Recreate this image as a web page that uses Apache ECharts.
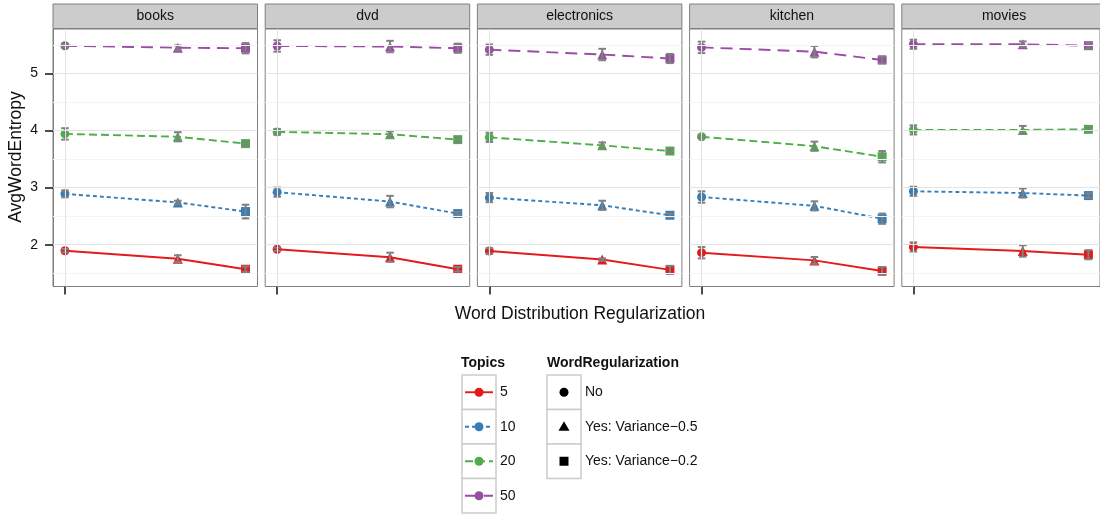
<!DOCTYPE html>
<html><head><meta charset="utf-8">
<script src="https://cdn.jsdelivr.net/npm/echarts@6/dist/echarts.min.js"></script>
<style>html,body{margin:0;padding:0;background:#fff}#c{width:1100px;height:514px}</style>
</head><body><div id="c"></div><script>
// ---- data ----
const panels = ['books', 'dvd', 'electronics', 'kitchen', 'movies'];
const topics = ['5', '10', '20', '50'];
const regLabels = ['No', 'Yes: Variance\u22120.5', 'Yes: Variance\u22120.2'];
const regX = [0, 0.5, 0.8];
const yTicks = [2, 3, 4, 5];
const yMinor = [1.5, 2.5, 3.5, 4.5, 5.5];
const xTicks = [0];

const booksMean = [[1.895, 1.755, 1.57], [2.89, 2.74, 2.58], [3.94, 3.89, 3.77], [5.484, 5.449, 5.44]];
const booksErr = [[0.03, 0.06, 0.05], [0.06, 0.03, 0.12], [0.1, 0.08, 0.03], [0.03, 0.04, 0.09]];
const dvdMean = [[1.92, 1.78, 1.57], [2.92, 2.755, 2.545], [3.975, 3.935, 3.84], [5.48, 5.47, 5.44]];
const dvdErr = [[0.03, 0.08, 0.04], [0.08, 0.1, 0.03], [0.05, 0.05, 0.04], [0.1, 0.1, 0.08]];
const electronicsMean = [[1.89, 1.74, 1.56], [2.825, 2.69, 2.515], [3.88, 3.74, 3.64], [5.415, 5.33, 5.26]];
const electronicsErr = [[0.05, 0.02, 0.07], [0.08, 0.08, 0.03], [0.08, 0.05, 0.03], [0.09, 0.1, 0.08]];
const kitchenMean = [[1.86, 1.725, 1.54], [2.835, 2.68, 2.455], [3.89, 3.725, 3.54], [5.455, 5.38, 5.235]];
const kitchenErr = [[0.1, 0.06, 0.07], [0.1, 0.08, 0.09], [0.02, 0.08, 0.1], [0.1, 0.1, 0.06]];
const moviesMean = [[1.96, 1.89, 1.825], [2.935, 2.905, 2.86], [4.01, 4.01, 4.02], [5.51, 5.51, 5.485]];
const moviesErr = [[0.08, 0.1, 0.08], [0.08, 0.08, 0.04], [0.08, 0.07, 0.03], [0.08, 0.05, 0.05]];

const panelMeans = [booksMean, dvdMean, electronicsMean, kitchenMean, moviesMean];
const panelErrs = [booksErr, dvdErr, electronicsErr, kitchenErr, moviesErr];

// ---- style ----
const FONT = '"Liberation Sans", Arial, Helvetica, sans-serif';
const colors = ['#E41A1C', '#377EB8', '#4DAF4A', '#984EA3'];
const dashes = ['solid', [4, 3], [8, 4], [12, 7]];
const symbols = ['circle', 'triangle', 'rect'];
const symSizes = [9, 10, 9];
const errColor = '#808080';

const P_LEFT = 53, P_STEP = 212.2, P_W = 204.5, P_TOP = 29, P_H = 257.5;
const Y_MIN = 1.268, Y_MAX = 5.777;
const X_MIN = -0.053, X_MAX = 0.853;

const grids = [], xAxes = [], yAxes = [], series = [], graphics = [];

panels.forEach((name, p) => {
  const left = P_LEFT + p * P_STEP;
  grids.push({ left: left, top: P_TOP, width: P_W, height: P_H, show: true,
    borderColor: '#7f7f7f', borderWidth: 1, backgroundColor: '#fff', containLabel: false });
  xAxes.push({ type: 'value', gridIndex: p, min: X_MIN, max: X_MAX, position: 'bottom',
    axisLine: { show: false, onZero: false },
    axisTick: { show: true, customValues: xTicks, length: 8, inside: false, lineStyle: { color: '#111', width: 1.5 } },
    axisLabel: { show: false }, splitLine: { show: false } });
  yAxes.push({ type: 'value', gridIndex: p, min: Y_MIN, max: Y_MAX, position: 'left',
    axisLine: { show: p === 0, onZero: false, lineStyle: { color: '#7f7f7f', width: 1 } },
    axisTick: { show: p === 0, customValues: yTicks, length: 8, inside: false, lineStyle: { color: '#111', width: 1.5 } },
    axisLabel: { show: p === 0, customValues: yTicks, margin: 15, color: '#111', fontSize: 14, fontFamily: FONT },
    splitLine: { show: false } });

  // gridlines (minor, major, vertical)
  series.push({ type: 'line', xAxisIndex: p, yAxisIndex: p, data: [], z: 0, silent: true,
    markLine: { silent: true, symbol: 'none', animation: false, label: { show: false },
      data: yMinor.map(v => ({ yAxis: v, lineStyle: { color: '#f4f4f4', width: 1, type: 'solid' } }))
        .concat(yTicks.map(v => ({ yAxis: v, lineStyle: { color: '#e3e3e3', width: 1, type: 'solid' } })))
        .concat(xTicks.map(v => ({ xAxis: v, lineStyle: { color: '#e3e3e3', width: 1, type: 'solid' } })))
    } });

  topics.forEach((t, k) => {
    const m = panelMeans[p][k];
    const e = panelErrs[p][k];
    series.push({ type: 'line', name: t, xAxisIndex: p, yAxisIndex: p, z: 2,
      lineStyle: { color: colors[k], width: 1.9, type: dashes[k] },
      itemStyle: { color: colors[k] },
      showSymbol: true, symbolKeepAspect: true,
      data: m.map((v, i) => ({ value: [regX[i], v], symbol: symbols[i], symbolSize: symSizes[i] })) });
    series.push({ type: 'custom', xAxisIndex: p, yAxisIndex: p, z: 3, silent: true,
      data: m.map((v, i) => [regX[i], v - e[i], v + e[i]]),
      renderItem: function (params, api) {
        const lo = api.coord([api.value(0), api.value(1)]);
        const hi = api.coord([api.value(0), api.value(2)]);
        const w = 3.8;
        const st = { stroke: errColor, lineWidth: 2 };
        return { type: 'group', children: [
          { type: 'line', shape: { x1: lo[0], y1: lo[1], x2: hi[0], y2: hi[1] }, style: st },
          { type: 'line', shape: { x1: lo[0] - w, y1: lo[1], x2: lo[0] + w, y2: lo[1] }, style: st },
          { type: 'line', shape: { x1: hi[0] - w, y1: hi[1], x2: hi[0] + w, y2: hi[1] }, style: st }
        ] };
      } });
  });

  // strip
  graphics.push({ type: 'rect', shape: { x: left, y: 4, width: P_W, height: 24.5 },
    style: { fill: '#cccccc', stroke: '#7f7f7f', lineWidth: 1 }, z: 10 });
  graphics.push({ type: 'text', x: left + P_W / 2, y: 16.5, z: 11,
    style: { text: name, fill: '#111', font: '14px ' + FONT, textAlign: 'center', textVerticalAlign: 'middle' } });
});

// axis titles
graphics.push({ type: 'text', x: 580, y: 314, style: { text: 'Word Distribution Regularization', fill: '#111',
  font: '17.5px ' + FONT, textAlign: 'center', textVerticalAlign: 'middle' } });
graphics.push({ type: 'text', x: 16, y: 157, rotation: Math.PI / 2, style: { text: 'AvgWordEntropy', fill: '#111',
  font: '17.5px ' + FONT, textAlign: 'center', textVerticalAlign: 'middle' } });

// legends
const KEY_TOP = 375, KEY_H = 34.5, KEY_W = 34;
graphics.push({ type: 'text', x: 461, y: 363, style: { text: 'Topics', fill: '#111', font: 'bold 14px ' + FONT,
  textAlign: 'left', textVerticalAlign: 'middle' } });
topics.forEach((t, k) => {
  const y = KEY_TOP + k * KEY_H, cy = y + KEY_H / 2, x = 462;
  graphics.push({ type: 'rect', shape: { x: x, y: y, width: KEY_W, height: KEY_H },
    style: { fill: '#fff', stroke: '#cccccc', lineWidth: 1.5 } });
  graphics.push({ type: 'line', shape: { x1: x + 3, y1: cy, x2: x + KEY_W - 3, y2: cy },
    style: { stroke: colors[k], lineWidth: 1.9, lineDash: dashes[k] === 'solid' ? null : dashes[k] } });
  graphics.push({ type: 'circle', shape: { cx: x + KEY_W / 2, cy: cy, r: 4.5 }, style: { fill: colors[k] } });
  graphics.push({ type: 'text', x: 500, y: cy, style: { text: t, fill: '#111', font: '14px ' + FONT,
    textAlign: 'left', textVerticalAlign: 'middle' } });
});
graphics.push({ type: 'text', x: 547, y: 363, style: { text: 'WordRegularization', fill: '#111', font: 'bold 14px ' + FONT,
  textAlign: 'left', textVerticalAlign: 'middle' } });
regLabels.forEach((t, k) => {
  const y = KEY_TOP + k * KEY_H, cy = y + KEY_H / 2, x = 547, cx = x + KEY_W / 2;
  graphics.push({ type: 'rect', shape: { x: x, y: y, width: KEY_W, height: KEY_H },
    style: { fill: '#fff', stroke: '#cccccc', lineWidth: 1.5 } });
  if (k === 0) graphics.push({ type: 'circle', shape: { cx: cx, cy: cy, r: 4.5 }, style: { fill: '#000' } });
  if (k === 1) graphics.push({ type: 'polygon', shape: { points: [[cx, cy - 5.5], [cx + 5.5, cy + 4], [cx - 5.5, cy + 4]] }, style: { fill: '#000' } });
  if (k === 2) graphics.push({ type: 'rect', shape: { x: cx - 4.5, y: cy - 4.5, width: 9, height: 9 }, style: { fill: '#000' } });
  graphics.push({ type: 'text', x: 585, y: cy, style: { text: t, fill: '#111', font: '14px ' + FONT,
    textAlign: 'left', textVerticalAlign: 'middle' } });
});

const chart = echarts.init(document.getElementById('c'), null, { renderer: 'canvas' });
chart.setOption({
  animation: false,
  backgroundColor: '#fff',
  textStyle: { fontFamily: FONT },
  grid: grids, xAxis: xAxes, yAxis: yAxes, series: series,
  graphic: { elements: graphics }
});
</script></body></html>
